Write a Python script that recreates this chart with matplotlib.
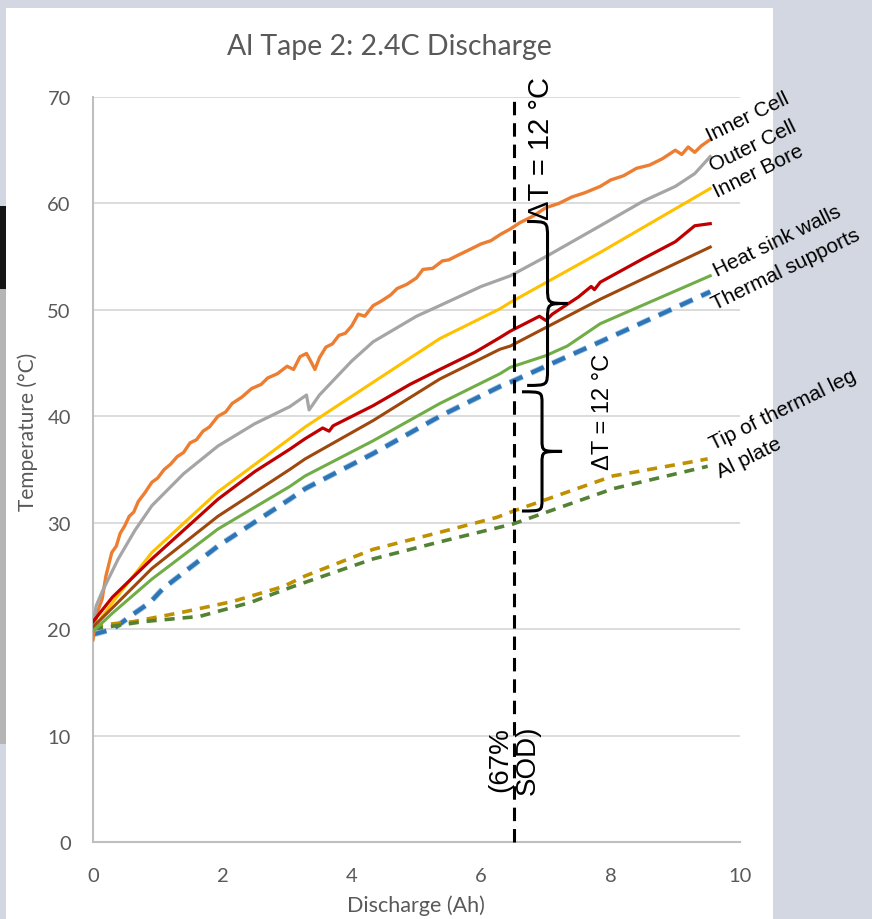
import matplotlib
matplotlib.use("Agg")
import matplotlib.pyplot as plt
from matplotlib.patches import Rectangle, PathPatch
from matplotlib.path import Path

# ---------------- data ----------------
inner_cell_x = [0, 0.03, 0.08, 0.14, 0.2, 0.29, 0.36, 0.42, 0.49, 0.56, 0.63, 0.7, 0.8, 0.91, 1.0, 1.1, 1.2, 1.3,
                1.4, 1.5, 1.6, 1.7, 1.8, 1.93, 2.05, 2.15, 2.3, 2.45, 2.6, 2.7, 2.85, 3.0, 3.1, 3.2, 3.3, 3.38,
                3.43, 3.5, 3.6, 3.7, 3.8, 3.9, 4.0, 4.1, 4.2, 4.33, 4.45, 4.6, 4.7, 4.85, 5.0, 5.1, 5.25, 5.4,
                5.5, 5.63, 5.8, 6.0, 6.15, 6.3, 6.45, 6.6, 6.8, 7.0, 7.2, 7.4, 7.6, 7.84, 8.0, 8.2, 8.4, 8.6,
                8.8, 9.0, 9.1, 9.2, 9.3, 9.4, 9.54]
inner_cell_t = [19.0, 20.5, 21.8, 22.8, 25.0, 27.2, 27.8, 29.0, 29.7, 30.6, 31.0, 32.0, 32.8, 33.8, 34.2, 35.0,
                35.5, 36.2, 36.6, 37.5, 37.8, 38.6, 39.0, 40.0, 40.4, 41.2, 41.8, 42.6, 43.0, 43.6, 44.0, 44.7,
                44.4, 45.6, 45.9, 45.0, 44.4, 45.5, 46.5, 46.8, 47.6, 47.8, 48.5, 49.6, 49.4, 50.4, 50.8, 51.4,
                52.0, 52.4, 53.0, 53.8, 53.9, 54.6, 54.7, 55.1, 55.6, 56.2, 56.5, 57.1, 57.6, 58.2, 58.8, 59.6,
                60.0, 60.6, 61.0, 61.6, 62.2, 62.6, 63.3, 63.6, 64.2, 65.0, 64.6, 65.3, 64.8, 65.4, 66.0]

outer_cell_x = [0, 0.05, 0.14, 0.39, 0.65, 0.91, 1.4, 1.93, 2.5, 3.04, 3.3, 3.34, 3.5, 4.0, 4.33, 5.0, 5.36,
                6.0, 6.45, 7.0, 7.84, 8.5, 9.0, 9.3, 9.54]
outer_cell_t = [20.5, 22.2, 23.5, 26.6, 29.3, 31.6, 34.6, 37.2, 39.3, 40.9, 42.0, 40.6, 42.0, 45.2, 47.0, 49.4,
                50.4, 52.2, 53.2, 55.0, 57.9, 60.2, 61.6, 62.8, 64.4]

inner_bore_x = [0, 0.3, 0.91, 1.93, 3.04, 3.28, 4.33, 5.36, 6.29, 6.45, 7.84, 9.54]
inner_bore_t = [20.0, 22.5, 27.2, 32.9, 37.9, 39.0, 43.2, 47.3, 50.1, 50.7, 55.4, 61.4]

heat_sink_x = [0, 0.3, 0.91, 1.93, 2.5, 3.04, 3.28, 3.55, 3.65, 3.71, 4.33, 4.9, 5.36, 5.9, 6.29, 6.45, 6.9,
               7.0, 7.1, 7.5, 7.7, 7.75, 7.84, 8.5, 9.0, 9.3, 9.54]
heat_sink_t = [20.7, 23.0, 26.6, 32.2, 34.8, 36.9, 37.9, 38.9, 38.6, 39.1, 41.0, 43.0, 44.4, 46.0, 47.4, 48.0,
               49.4, 49.0, 49.6, 51.2, 52.2, 51.9, 52.6, 54.8, 56.4, 57.9, 58.1]

brown_x = [0, 0.3, 0.91, 1.93, 3.04, 3.28, 4.33, 5.36, 6.29, 6.45, 7.84, 9.54]
brown_t = [20.2, 22.0, 25.7, 30.6, 35.0, 36.0, 39.6, 43.5, 46.3, 46.6, 51.0, 55.9]

green_x = [0, 0.3, 0.91, 1.93, 3.04, 3.28, 4.33, 5.36, 6.29, 6.45, 7.0, 7.33, 7.84, 9.54]
green_t = [19.8, 21.5, 24.7, 29.4, 33.4, 34.4, 37.7, 41.2, 44.0, 44.6, 45.7, 46.6, 48.7, 53.2]

thermal_sup_x = [0, 0.31, 0.62, 0.88, 1.08, 1.93, 3.04, 3.28, 4.33, 5.36, 6.29, 6.45, 7.84, 9.54]
thermal_sup_t = [19.5, 20.0, 21.4, 22.5, 23.8, 27.8, 32.2, 33.2, 36.5, 40.0, 42.8, 43.2, 47.0, 51.7]

tip_leg_x = [0, 0.62, 1.39, 2.16, 2.94, 3.28, 4.33, 5.36, 6.24, 6.5, 8.04, 9.33, 9.5]
tip_leg_t = [20.3, 20.7, 21.6, 22.6, 24.0, 25.0, 27.5, 29.1, 30.5, 31.1, 34.4, 35.8, 36.0]

al_plate_x = [0, 0.77, 1.65, 2.43, 3.09, 4.33, 5.36, 6.5, 8.04, 9.5]
al_plate_t = [20.0, 20.7, 21.2, 22.5, 24.0, 26.6, 28.2, 29.9, 33.2, 35.3]

sod_x = 6.5
x_ticks = [0, 2, 4, 6, 8, 10]
y_ticks = [0, 10, 20, 30, 40, 50, 60, 70]

# ---------------- figure ----------------
W, H = 872, 920
fig = plt.figure(figsize=(W / 100, H / 100), dpi=100)
fig.patch.set_facecolor('#D3D7E1')
fig.patches.append(Rectangle((6 / W, 0), (773 - 6) / W, (H - 9) / H, transform=fig.transFigure,
                             facecolor='white', edgecolor='none', zorder=-10))
# photo strip at far left
fig.patches.append(Rectangle((0, 1 - 745 / H), 6 / W, (745 - 290) / H, transform=fig.transFigure,
                             facecolor='#b5b5b5', edgecolor='none', zorder=-10))
fig.patches.append(Rectangle((0, 1 - 290 / H), 6 / W, (290 - 207) / H, transform=fig.transFigure,
                             facecolor='#151515', edgecolor='none', zorder=-10))

ax = fig.add_axes([93 / W, 1 - 843 / H, (740 - 93) / W, (843 - 98) / H])
ax.set_zorder(1)
ax.patch.set_alpha(0)
ax.set_xlim(0, 10)
ax.set_ylim(0, 70)
ax.set_xticks(x_ticks)
ax.set_yticks(y_ticks)
gray_txt = '#595959'
axis_font = 'Lato'
ax.tick_params(axis='both', length=0, labelsize=14.5, labelcolor=gray_txt)
ax.tick_params(axis='y', pad=16)
ax.tick_params(axis='x', pad=18)
for lab in ax.get_xticklabels() + ax.get_yticklabels():
    lab.set_fontfamily(axis_font)
ax.grid(axis='y', color='#D9D9D9', lw=1.3)
ax.set_axisbelow(True)
for s in ['top', 'right']:
    ax.spines[s].set_visible(False)
for s in ['left', 'bottom']:
    ax.spines[s].set_color('#BFBFBF')
    ax.spines[s].set_linewidth(1.5)

# series
ax.plot(inner_cell_x, inner_cell_t, color='#ED7D31', lw=2.4, zorder=5)
ax.plot(outer_cell_x, outer_cell_t, color='#A5A5A5', lw=2.3, zorder=5)
ax.plot(inner_bore_x, inner_bore_t, color='#FFC000', lw=2.2, zorder=5)
ax.plot(heat_sink_x, heat_sink_t, color='#C00000', lw=2.3, zorder=5)
ax.plot(brown_x, brown_t, color='#9E480E', lw=2.2, zorder=5)
ax.plot(green_x, green_t, color='#70AD47', lw=2.2, zorder=5)
ax.plot(thermal_sup_x, thermal_sup_t, color='#9DC3E6', lw=4.2, dashes=(2.4, 1.6), zorder=4)
ax.plot(thermal_sup_x, thermal_sup_t, color='#2E75B6', lw=3.0, dashes=(3.3, 2.3), zorder=4)
ax.plot(tip_leg_x, tip_leg_t, color='#BF9000', lw=2.6, dashes=(2.8, 2.2), zorder=4)
ax.plot(al_plate_x, al_plate_t, color='#548235', lw=2.6, dashes=(2.8, 2.2), zorder=4)

# SOD line
ax.plot([sod_x, sod_x], [0, 70.3], color='black', lw=2.2, dashes=(4.4, 2.6), clip_on=False, zorder=6)


def brace(x0, xtip, ytop, ybot, r=0.1):
    h = ytop - ybot
    xm = (x0 + xtip) / 2
    ymid = (ytop + ybot) / 2
    rr = r * h
    verts = [(x0, ytop), (xm, ytop), (xm, ytop), (xm, ytop - rr),
             (xm, ymid + rr),
             (xm, ymid), (xm, ymid), (xtip, ymid),
             (xm, ymid), (xm, ymid), (xm, ymid - rr),
             (xm, ybot + rr),
             (xm, ybot), (xm, ybot), (x0, ybot)]
    codes = [Path.MOVETO, Path.CURVE4, Path.CURVE4, Path.CURVE4,
             Path.LINETO,
             Path.CURVE4, Path.CURVE4, Path.CURVE4,
             Path.CURVE4, Path.CURVE4, Path.CURVE4,
             Path.LINETO,
             Path.CURVE4, Path.CURVE4, Path.CURVE4]
    ax.add_patch(PathPatch(Path(verts, codes), fill=False, lw=2.2, color='black',
                           clip_on=False, zorder=7))


brace(6.71, 7.34, 58.3, 42.9)
brace(6.63, 7.25, 42.3, 31.1)

ann_font = 'Liberation Sans'


def ftext(px, py, s, **kw):
    fig.text(px / W, 1 - py / H, s, **kw)


ftext(389, 47, 'Al Tape 2: 2.4C Discharge', ha='center', va='center', fontsize=20.5,
      color=gray_txt, family=axis_font)
ftext(28, 432, 'Temperature (°C)', ha='center', va='center', rotation=90, fontsize=15,
      color=gray_txt, family=axis_font)
ftext(416, 906, 'Discharge (Ah)', ha='center', va='center', fontsize=15.5,
      color=gray_txt, family=axis_font)

ftext(541, 148, 'ΔT = 12 °C', ha='center', va='center', rotation=90, fontsize=21, family=ann_font)
ftext(603, 412, 'ΔT = 12 °C', ha='center', va='center', rotation=90, fontsize=17, family=ann_font)
ftext(514, 760, '(67%\nSOD)', ha='center', va='center', rotation=90, fontsize=20, family=ann_font,
      linespacing=1.1)

labels = [
    (710, 142, 'Inner Cell'),
    (713, 172, 'Outer Cell'),
    (717, 198, 'Inner Bore'),
    (717, 277, 'Heat sink walls'),
    (715, 310, 'Thermal supports'),
    (713, 450, 'Tip of thermal leg'),
    (720, 478, 'Al plate'),
]
for px, py, s in labels:
    ftext(px, py, s, ha='left', va='baseline', rotation=26, rotation_mode='anchor',
          fontsize=15, family=ann_font)

fig.savefig('out.png', dpi=100, facecolor=fig.get_facecolor())
